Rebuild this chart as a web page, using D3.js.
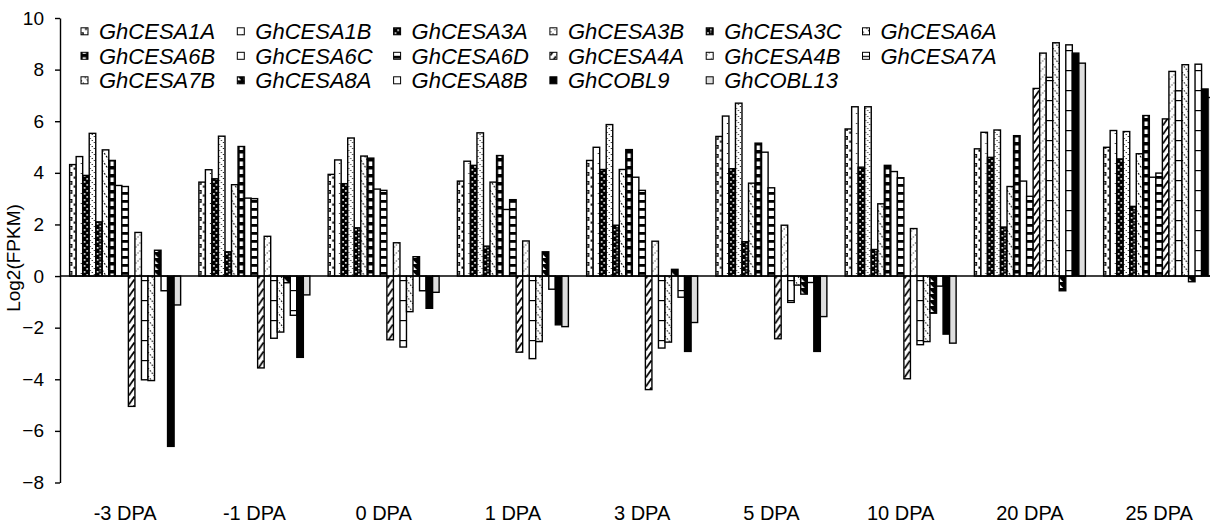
<!DOCTYPE html>
<html>
<head>
<meta charset="utf-8">
<script src="https://cdn.jsdelivr.net/npm/d3@7"></script>
<style>
body { margin: 0; background: #fff; }
svg { display: block; font-family: "Liberation Sans", Arial, sans-serif; }
</style>
</head>
<body>
<svg id="chart" width="1210" height="525"></svg>
<script>
// stages on the x axis, one group of bars each
var stages = ["-3 DPA", "-1 DPA", "0 DPA", "1 DPA", "3 DPA", "5 DPA", "10 DPA", "20 DPA", "25 DPA"];
var genes = ["GhCESA1A", "GhCESA1B", "GhCESA3A", "GhCESA3B", "GhCESA3C", "GhCESA6A",
    "GhCESA6B", "GhCESA6C", "GhCESA6D", "GhCESA4A", "GhCESA4B", "GhCESA7A",
    "GhCESA7B", "GhCESA8A", "GhCESA8B", "GhCOBL9", "GhCOBL13"];
var yTicks = [-8, -6, -4, -2, 0, 2, 4, 6, 8, 10];

// log2(FPKM), one value per stage
var cesa1a = [4.32, 3.64, 3.94, 3.68, 4.48, 5.41, 5.70, 4.93, 4.99];
var cesa1b = [4.63, 4.12, 4.50, 4.45, 4.99, 6.20, 6.56, 5.57, 5.64];
var cesa3a = [3.90, 3.77, 3.58, 4.29, 4.13, 4.16, 4.22, 4.60, 4.54];
var cesa3b = [5.53, 5.42, 5.35, 5.55, 5.87, 6.70, 6.56, 5.66, 5.60];
var cesa3c = [2.10, 0.94, 1.87, 1.16, 1.97, 1.33, 1.03, 1.90, 2.70];
var cesa6a = [4.89, 3.54, 4.65, 3.64, 4.13, 3.60, 2.80, 3.47, 4.74];
var cesa6b = [4.48, 5.02, 4.57, 4.67, 4.90, 5.15, 4.29, 5.44, 6.22];
var cesa6c = [3.51, 3.02, 3.37, 2.58, 3.83, 4.80, 4.05, 3.68, 3.83];
var cesa6d = [3.47, 3.00, 3.32, 2.96, 3.32, 3.42, 3.81, 3.09, 3.99];
var cesa4a = [-5.05, -3.56, -2.47, -2.95, -4.40, -2.43, -3.98, 7.27, 6.09];
var cesa4b = [1.69, 1.54, 1.29, 1.36, 1.35, 1.97, 1.84, 8.64, 7.93];
var cesa7a = [-4.02, -2.41, -2.75, -3.20, -2.79, -1.02, -2.66, 7.70, 7.18];
var cesa7b = [-4.05, -2.17, -1.38, -2.54, -2.56, -0.35, -2.54, 9.04, 8.19];
var cesa8a = [1.00, -0.26, 0.75, 0.94, 0.26, -0.70, -1.44, -0.57, -0.22];
var cesa8b = [-0.57, -1.52, -0.57, -0.51, -0.82, -0.25, -0.39, 8.96, 8.21];
var cobl9 = [-6.60, -3.15, -1.25, -1.89, -2.92, -2.92, -2.25, 8.64, 7.25];
var cobl13 = [-1.12, -0.73, -0.63, -1.96, -1.80, -1.57, -2.60, 8.25, 6.92];

var series = [cesa1a, cesa1b, cesa3a, cesa3b, cesa3c, cesa6a, cesa6b, cesa6c, cesa6d,
    cesa4a, cesa4b, cesa7a, cesa7b, cesa8a, cesa8b, cobl9, cobl13];

var svg = d3.select("#chart");
var axisX = 60;

var y = d3.scaleLinear().domain([-8, 10]).range([482.5, 18]);

// the right edge of the plot runs past the picture, as in the original
var x0 = d3.scaleBand()
    .domain(stages)
    .range([axisX + 0.5, axisX + 0.5 + 9 * 129.25])
    .paddingInner(18.25 / 129.25)
    .paddingOuter(18.25 / 129.25 / 2);

var x1 = d3.scaleBand()
    .domain(genes)
    .range([0, x0.bandwidth()]);

var bw = x1.bandwidth();

// monochrome fill patterns, one per gene
var defs = svg.append("defs");

function pattern(i, h, bg) {
    var p = defs.append("pattern")
        .attr("id", "pat" + i)
        .attr("patternUnits", "userSpaceOnUse")
        .attr("width", bw)
        .attr("height", h);
    p.append("rect").attr("width", bw).attr("height", h).attr("fill", bg);
    return p;
}

function box(p, bx, by, w, h, c) {
    p.append("rect").attr("x", bx).attr("y", by).attr("width", w).attr("height", h).attr("fill", c);
}

function stroke(p, d, w, dash, c) {
    p.append("path").attr("d", d).attr("fill", "none")
        .attr("stroke", c || "#000").attr("stroke-width", w)
        .attr("stroke-dasharray", dash);
}

var p;
p = pattern(0, 9, "#fff");
box(p, 0.3, 1, 2.4, 1.2, "#000");
box(p, 1.5, 1, 1.2, 3.5, "#000");
box(p, 0.3, 3.5, 2.4, 1.2, "#000");
box(p, bw - 2.4, 5.5, 1.8, 2.2, "#000");

p = pattern(1, 10, "#fff");
box(p, bw - 2, 3, 1, 1, "#000");

p = pattern(2, 6, "#000");
box(p, 1.2, 1, bw / 2 - 1.8, 1.8, "#fff");
box(p, bw / 2 + 0.6, 4, bw / 2 - 1.8, 1.8, "#fff");

p = pattern(3, 6, "#fff");
box(p, 0.5, 0, 1, 1, "#000");
box(p, 2.5, 2, 1, 1, "#000");
box(p, 4.5, 4, 1, 1, "#000");

p = pattern(4, 6, "#000");
box(p, 1, 1, 1.6, 1.6, "#fff");
box(p, 3.8, 3.6, 1.6, 1.6, "#fff");
box(p, 4, 0.5, 1, 1, "#fff");

p = pattern(5, 10, "#fff");
stroke(p, "M0,0L" + bw + ",10", 1, "2 1.5");

p = pattern(6, 8, "#000");
box(p, 1.6, 1.5, bw - 3.2, 4.5, "#fff");

p = pattern(7, 8, "#fff");

p = pattern(8, 8, "#fff");
box(p, 0, 0, bw, 2.8, "#000");

p = pattern(9, 9, "#fff");
stroke(p, "M0.5,8.5L" + (bw - 0.5) + ",0.5", 1.8, null);

p = pattern(10, 8, "#fff");
box(p, 0.5, 6.5, 1, 1, "#000");
box(p, 2.5, 4.5, 1, 1, "#000");
box(p, 4.5, 2.5, 1, 1, "#000");

p = pattern(11, 20, "#fff");
box(p, 0, 0, bw, 1.2, "#000");

p = pattern(12, 8, "#fff");
stroke(p, "M0,0L" + bw + ",8", 1, "1.5 1.5");

p = pattern(13, 6, "#000");
p.append("path").attr("d", "M0,6L0,2L" + (bw * 0.6) + ",6Z").attr("fill", "#fff");

p = pattern(14, 20, "#fff");
box(p, 0, 10, bw, 1.2, "#000");

function fill(i) {
    if (i == 15) return "#000";
    if (i == 16) return "#dedede";
    return "url(#pat" + i + ")";
}

// bars, one <g> per stage so the pattern tiles line up with the bars
var groups = svg.append("g").selectAll("g")
    .data(stages)
    .enter().append("g")
    .attr("transform", function(d) {
        return "translate(" + x0(d) + ",0)";
    });

groups.selectAll("rect")
    .data(function(d, si) {
        return genes.map(function(g, gi) {
            return {gene: g, index: gi, value: series[gi][si]};
        });
    })
    .enter().append("rect")
    .attr("x", function(d) { return x1(d.gene); })
    .attr("width", bw)
    .attr("y", function(d) { return y(Math.max(0, d.value)); })
    .attr("height", function(d) { return Math.abs(y(d.value) - y(0)); })
    .attr("fill", function(d) { return fill(d.index); })
    .attr("stroke", "#000")
    .attr("stroke-width", 1.4);

// zero line
svg.append("line")
    .attr("x1", axisX)
    .attr("x2", 1210)
    .attr("y1", y(0))
    .attr("y2", y(0))
    .attr("stroke", "#000")
    .attr("stroke-width", 1.4);

// y axis
var yAxis = svg.append("g")
    .attr("transform", "translate(" + axisX + ",0)")
    .call(d3.axisLeft(y).tickValues(yTicks).tickSize(5).tickSizeOuter(0).tickPadding(11));
yAxis.select(".domain").attr("stroke", "#000").attr("stroke-width", 1.4);
yAxis.selectAll(".tick line").attr("stroke", "#000").attr("stroke-width", 1.4);
yAxis.selectAll(".tick text")
    .attr("font-size", 19)
    .attr("font-family", "Liberation Sans, Arial, sans-serif")
    .attr("fill", "#000");

svg.append("text")
    .attr("transform", "translate(20,258) rotate(-90)")
    .attr("text-anchor", "middle")
    .attr("font-size", 19)
    .text("Log2(FPKM)");

// stage labels under the plot
svg.append("g").selectAll("text")
    .data(stages)
    .enter().append("text")
    .attr("x", function(d) { return x0(d) + x0.bandwidth() / 2; })
    .attr("y", 520)
    .attr("text-anchor", "middle")
    .attr("font-size", 20)
    .text(function(d) { return d; });

// legend, 6 per row
var legend = svg.append("g").selectAll("g")
    .data(genes)
    .enter().append("g")
    .attr("transform", function(d, i) {
        return "translate(" + (81 + (i % 6) * 156.3) + "," + (31.3 + Math.floor(i / 6) * 24.5) + ")";
    });

legend.append("rect")
    .attr("x", 0)
    .attr("y", -3.5)
    .attr("width", 7)
    .attr("height", 7)
    .attr("fill", function(d, i) { return fill(i); })
    .attr("stroke", "#000")
    .attr("stroke-width", 1);

legend.append("text")
    .attr("x", 18)
    .attr("y", 8)
    .attr("font-size", 22)
    .attr("font-style", "italic")
    .text(function(d) { return d; });
</script>
</body>
</html>
